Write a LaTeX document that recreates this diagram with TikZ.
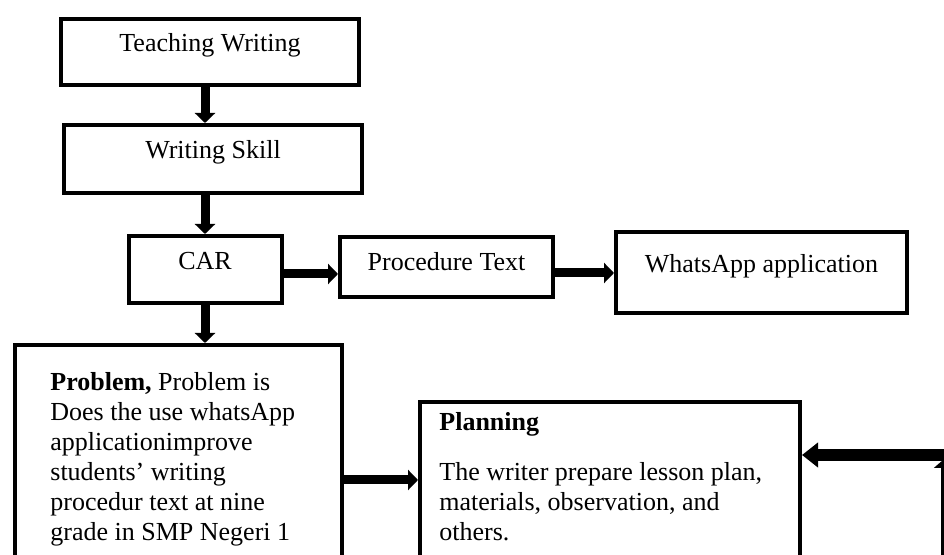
\documentclass[tikz,border=0pt]{standalone}
\usepackage{fontspec}
\setmainfont{Liberation Serif}
\usetikzlibrary{arrows.meta}

\tikzset{
  box/.style={draw, line width=2pt, inner sep=0pt, text height=6pt, text depth=6pt},
  flow/.style={line width=4.5pt, -{Triangle[width=10pt,length=5pt]}},
  txt/.style={anchor=base west, inner sep=0pt, align=left},
}

\begin{document}
\begin{tikzpicture}[x=0.5pt, y=-0.5pt, font=\fontsize{13}{15}\selectfont]
\useasboundingbox (0,0) rectangle (944,555);

%% boxes
\node[box, minimum width=149pt, minimum height=33pt] (teach) at (210,52) {Teaching Writing};
\node[box, minimum width=149pt, minimum height=34pt] (skill) at (213,159) {Writing Skill};
\node[box, minimum width=76.5pt, minimum height=33.5pt] (car) at (205,269.5) {CAR};
\node[box, minimum width=106.5pt, minimum height=30pt, text height=8pt, text depth=4pt] (proc) at (446.5,267) {Procedure Text};
\node[box, minimum width=145.5pt, minimum height=40.5pt] (wa) at (761.5,272.5) {WhatsApp application};
\node[box, anchor=north west, minimum width=163.5pt, minimum height=140pt] (prob) at (13,343) {};
\node[box, anchor=north west, minimum width=190pt, minimum height=120pt] (plan) at (418,400) {};

%% box texts (base = last line)
\node[txt] (probtxt) at (50,541) {\textbf{Problem,} Problem is\\
  Does the use whatsApp\\
  applicationimprove\\
  students’ writing\\
  procedur text at nine\\
  grade in SMP Negeri 1};
\node[txt] (plantxt) at (439,541) {\textbf{Planning}\\[10pt]
  The writer prepare lesson plan,\\
  materials, observation, and\\
  others.};

%% arrows
\draw[flow] (teach.south -| car) -- (skill.north -| car);          %% teach-skill
\draw[flow] (skill.south -| car) -- (car.north);                   %% skill-car
\draw[flow] (car.south) -- (car.south |- prob.north);              %% car-prob
\draw[flow] (car.east |- 0,274) -- (proc.west |- 0,274);           %% car-proc
\draw[flow] (proc.east |- 0,273) -- (wa.west |- 0,273);            %% proc-wa
\draw[flow] (prob.east |- 0,480) -- (plan.west |- 0,480);          %% prob-plan

%% loop back into planning
\coordinate (back) at (960,455);
\coordinate (loopbot) at (943,600);
\coordinate (looptop) at (943,460);
\draw[flow, line width=6pt, -{Triangle[width=12pt,length=8pt]}] (back) -- (plan.east |- back);
\draw[line width=2.5pt, -{Triangle[width=9pt,length=4pt]}] (loopbot) -- (looptop);

\end{tikzpicture}
\end{document}
